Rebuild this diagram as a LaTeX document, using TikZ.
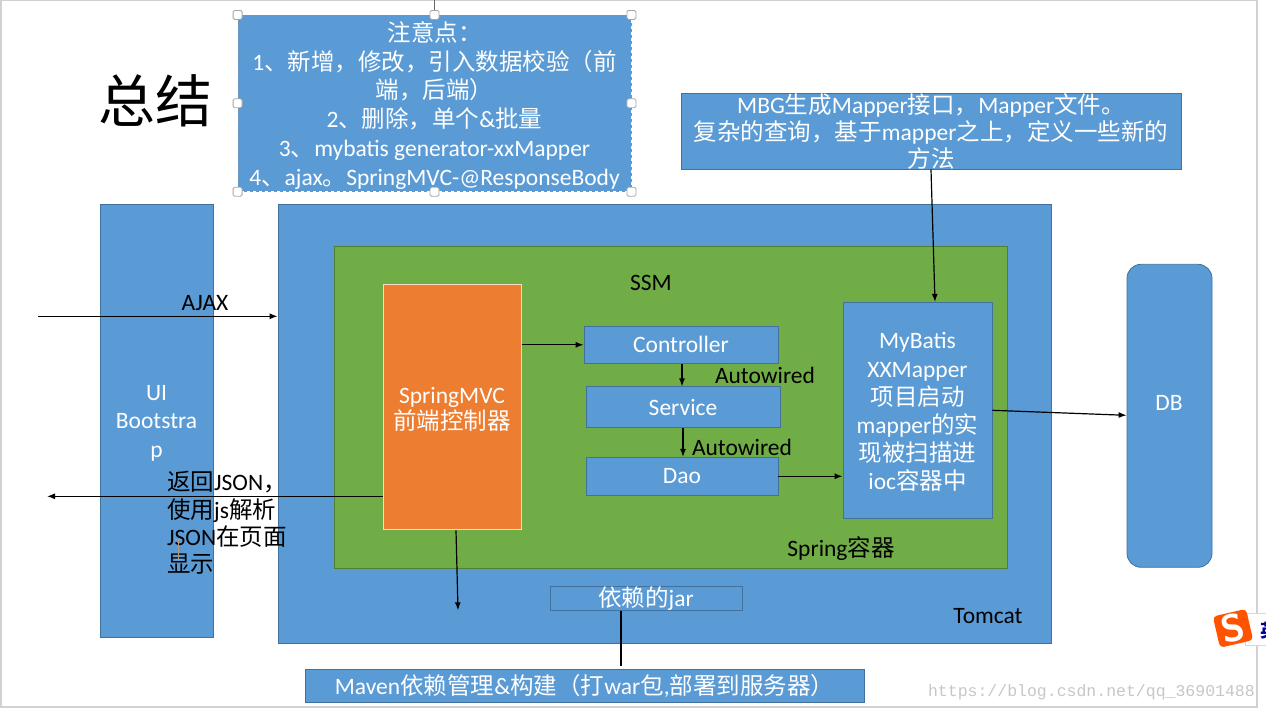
\documentclass[tikz,border=0pt]{standalone}
\usepackage{fontspec}
\setmainfont{Carlito}
\newfontfamily\cjk{Noto Sans CJK SC}
\newfontfamily\wmfont{Liberation Mono}
\newcommand{\CJ}[1]{{\cjk #1}}
\usetikzlibrary{arrows.meta,calc}
\definecolor{boxblue}{HTML}{5B9BD5}
\definecolor{boxedge}{HTML}{41719C}
\definecolor{sgreen}{HTML}{70AD47}
\definecolor{gedge}{HTML}{507E32}
\definecolor{sorange}{HTML}{ED7D31}
\newcommand{\fsz}[2]{\fontsize{#1}{#2}\selectfont}
\tikzset{
  x=1pt,y=-1pt,
  box/.style={draw=boxedge,line width=0.8pt,fill=boxblue,text=white,align=center,inner sep=0pt,font=\fsz{23.5}{29}},
  boxtext/.style={text=white,align=center,inner sep=0pt,font=\fsz{23.5}{#1}},
  lbl/.style={text=black,inner sep=0pt,font=\fsz{23.5}{28}},
  arr/.style={draw=black,line width=1.2pt,-{Latex[length=8pt,width=6pt]}},
  plain/.style={draw=black,line width=1.2pt},
  handle/.style={draw=black!35,line width=0.8pt,fill=white,rounded corners=1.5pt,minimum size=9pt,inner sep=0pt}
}
\begin{document}
\begin{tikzpicture}
\useasboundingbox (0,0.7) rectangle (1266,713.7);
\fill[white] (0,0.7) rectangle (1266,713.7);
\draw[black!18,line width=2pt] (1,0) -- (1,707.5) -- (1257,707.5) -- (1257,0);
\draw[black!18,line width=1pt] (0,1.2) -- (1257,1.2);

% containers
\node[box,minimum width=773pt,minimum height=439pt] (tomcat) at (664.5,424.5) {};
\node[box,draw=gedge,fill=sgreen,minimum width=673pt,minimum height=322pt] (ssm) at (670.5,408) {};
\node[box,minimum width=113pt,minimum height=433pt] (ui) at (156.5,421.5) {};
\node[boxtext=28.5] (uit) at (156.5,424) {UI\\Bootstra\\p};
\node[box,rounded corners=14pt,minimum width=85pt,minimum height=303pt] (db) at (1169.5,416.5) {};
\node[boxtext=28] (dbt) at (1169,403.5) {DB};

\node[box,draw=white!70!sorange,line width=1pt,fill=sorange,minimum width=138pt,minimum height=245pt] (spring) at (452,408) {};
\node[boxtext=26.5] (springt) at (452,410) {SpringMVC\\\CJ{前端控制器}};
\node[box,minimum width=194pt,minimum height=37pt] (ctrl) at (681,345.5) {\raisebox{-1pt}{Controller}};
\node[box,minimum width=194pt,minimum height=41pt] (svc) at (683,408) {\raisebox{-1pt}{Service}};
\node[box,minimum width=192pt,minimum height=38pt] (dao) at (682,477) {\raisebox{-1.5pt}{Dao}};
\node[box,minimum width=149pt,minimum height=216pt] (mybatis) at (917.5,411) {};
\node[boxtext=28.2] (mybatist) at (917.5,413) {MyBatis\\XXMapper\\\CJ{项目启动}\\mapper\CJ{的实}\\\CJ{现被扫描进}\\ioc\CJ{容器中}};

\node[box,minimum width=500pt,minimum height=76pt] (mbg) at (931,132) {};
\node[boxtext=27.2] (mbgt) at (931,132.5) {MBG\CJ{生成}Mapper\CJ{接口，}Mapper\CJ{文件。}\\\CJ{复杂的查询，基于}mapper\CJ{之上，定义一些新的}\\\CJ{方法}};
\node[box,minimum width=192pt,minimum height=22pt] (jar) at (646,599) {\raisebox{-1pt}{\CJ{依赖的}jar}};
\node[box,minimum width=559pt,minimum height=33pt] (maven) at (584.5,686.5) {Maven\CJ{依赖管理}\&\CJ{构建（打}war\CJ{包}{,}\CJ{部署到服务器）}};

% note box with selection frame
\coordinate (rotc) at (434,0);
\draw[black!60,line width=0.8pt] (rotc) -- (434,16);
\node[box,draw=black!45,dashed,minimum width=393pt,minimum height=176pt] (note) at (434.5,104) {};
\node[boxtext=28.8] (notet) at (434.5,106) {\CJ{注意点：}\\1\CJ{、新增，修改，引入数据校验（前}\\\CJ{端，后端）}\\2\CJ{、删除，单个}\&\CJ{批量}\\3\CJ{、}mybatis generator-xxMapper\\4\CJ{、}ajax\CJ{。}SpringMVC-@ResponseBody};
\foreach \a in {north west,north,north east,west,east,south west,south,south east}
  \node[handle] at (note.\a) {};

% title and labels
\node[inner sep=0pt,font=\cjk\fsz{57}{60}] (title) at (155,101) {总结};
\node[lbl] (ssmt) at (651,284) {SSM};
\node[lbl] (ajaxt) at (205,303.5) {AJAX};
\node[lbl] (aw1) at (765,376.5) {Autowired};
\node[lbl] (aw2) at (742,448.5) {Autowired};
\node[lbl] (springc) at (841,549.5) {Spring\CJ{容器}};
\node[lbl] (tomcatt) at (988,617) {Tomcat};
\node[lbl,align=left,anchor=north west,font=\fsz{23.5}{27.3}] (rett) at (167,472) {\CJ{返回}JSON\CJ{，}\\\CJ{使用}js\CJ{解析}\\JSON\CJ{在页面}\\\CJ{显示}};
\draw[brown!70!black!60,line width=1pt] (175,540) -- (182,540) (178.5,540) -- (178.5,560) (175,560) -- (182,560);

% connectors
\coordinate (ajaxs) at (38,317);
\coordinate (rete) at (47,497);
\coordinate (jarpt) at (458,611);
\draw[arr] (ajaxs) -- (tomcat.west |- ajaxs);
\draw[arr] (spring.west |- rete) -- (rete);
\draw[arr] (spring.east |- ctrl) -- (ctrl.west);
\draw[arr] ([xshift=1pt]ctrl.south) -- ([xshift=-1pt]svc.north);
\draw[arr] ([xshift=0pt]svc.south) -- ([xshift=1pt]dao.north);
\draw[arr] (dao.east) -- ($(mybatis.west)+(0,66)$);
\draw[arr] (mybatis.east) -- ($(db.west)+(0,-0.5)$);
\draw[arr] ($(mbg.south)+(0,0)$) -- ($(mybatis.north)+(17.5,0)$);
\draw[arr] ($(spring.south)+(4,0)$) -- (jarpt);
\draw[plain] ($(jar.south)+(-25,0)$) -- ($(maven.north)+(36.5,-3)$);

% input-method logo and watermark
\fill[white,draw=black!15,line width=0.8pt] (1245,614) rectangle (1268,646);
\begin{scope}
  \clip (1240,610) rectangle (1266,650);
  \node[text=blue!60!black,inner sep=0pt,anchor=west,font=\cjk\bfseries\fsz{18}{18}] (ying) at (1260,631) {英};
\end{scope}
\begin{scope}[shift={(1233,629)},rotate=13,transform shape]
  \fill[orange!65!red,rounded corners=4pt] (-17,-16) rectangle (17,16);
  \node[text=white,inner sep=0pt,font=\bfseries\sffamily\fsz{38}{38}] (slogo) at (0,0) {S};
\end{scope}
\node[text=black!22,inner sep=0pt,anchor=east,font=\wmfont\fsz{16.5}{18}] (wm) at (1255,693) {https://blog.csdn.net/qq\_36901488};
\end{tikzpicture}
\end{document}
